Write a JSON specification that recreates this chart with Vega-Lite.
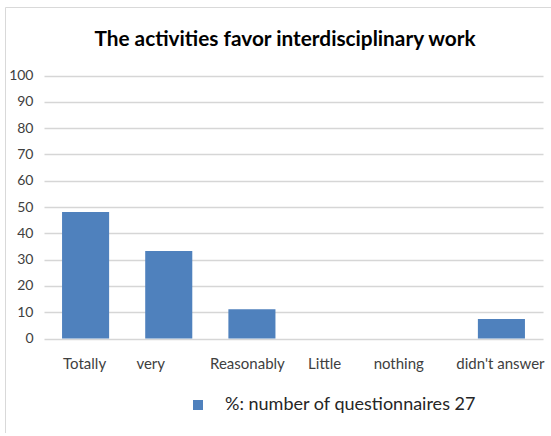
{
  "$schema": "https://vega.github.io/schema/vega-lite/v6.json",
  "width": 546,
  "height": 426,
  "autosize": {"type": "none"},
  "padding": {"left": 5, "top": 7, "right": 0, "bottom": 0},
  "background": "white",
  "title": {
    "text": "The activities favor interdisciplinary work",
    "font": "Lato",
    "fontSize": 20.8,
    "fontWeight": "bold",
    "color": "#000000",
    "anchor": "middle",
    "frame": "group",
    "offset": -44,
    "dx": 7
  },
  "data": {
    "values": [
      {"answer": "Totally", "percent": 48.1, "series": "%: number of questionnaires 27"},
      {"answer": "very", "percent": 33.3, "series": "%: number of questionnaires 27"},
      {"answer": "Reasonably", "percent": 11.1, "series": "%: number of questionnaires 27"},
      {"answer": "Little", "percent": 0, "series": "%: number of questionnaires 27"},
      {"answer": "nothing", "percent": 0, "series": "%: number of questionnaires 27"},
      {"answer": "didn't answer", "percent": 7.4, "series": "%: number of questionnaires 27"}
    ]
  },
  "mark": {"type": "bar"},
  "encoding": {
    "x": {
      "field": "answer",
      "type": "nominal",
      "sort": null,
      "scale": {"range": [39, 538], "paddingInner": 0.434, "paddingOuter": 0.217},
      "axis": {
        "title": null,
        "domain": false,
        "ticks": false,
        "tickSize": 0,
        "grid": false,
        "labelAngle": 0,
        "labelFont": "Lato",
        "labelFontSize": 15,
        "labelColor": "#404040",
        "labelPadding": -77,
        "labelOffset": {"expr": "datum.value === 'very' ? -18 : datum.value === 'Little' ? -10.5 : datum.value === 'nothing' ? -19.5 : datum.value === 'Reasonably' ? -4.5 : -1"}
      }
    },
    "y": {
      "field": "percent",
      "type": "quantitative",
      "scale": {"domain": [0, 100], "range": [331.5, 68.5], "nice": false},
      "axis": {
        "title": null,
        "domain": false,
        "ticks": false,
        "tickSize": 0,
        "values": [0, 10, 20, 30, 40, 50, 60, 70, 80, 90, 100],
        "grid": true,
        "gridColor": "#d6d6d6",
        "gridWidth": 1.5,
        "labelFont": "Lato",
        "labelFontSize": 14,
        "labelColor": "#404040",
        "labelPadding": -28
      }
    },
    "color": {
      "field": "series",
      "type": "nominal",
      "scale": {"range": ["#4f81bd"]},
      "legend": {
        "title": null,
        "orient": "none",
        "legendX": 184,
        "legendY": 389,
        "padding": 0,
        "symbolType": "square",
        "symbolSize": 100,
        "symbolStrokeWidth": 0,
        "labelFont": "Lato",
        "labelFontSize": 18,
        "labelColor": "#262626",
        "labelOffset": 18,
        "labelLimit": 400
      }
    }
  },
  "config": {
    "view": {"stroke": "#d9d9d9", "strokeWidth": 1}
  }
}
